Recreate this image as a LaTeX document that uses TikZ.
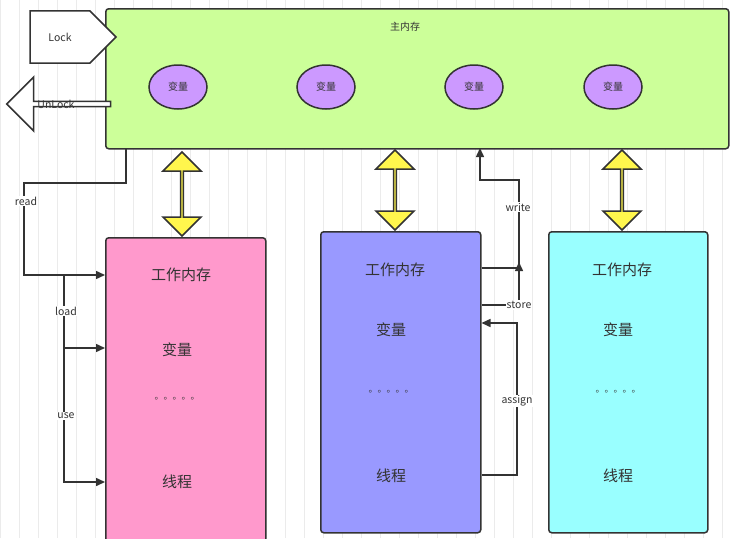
\documentclass[tikz,border=0pt]{standalone}
\usepackage{fontspec}
\setmainfont{Noto Sans CJK SC}
\usetikzlibrary{shapes.arrows,shapes.geometric,arrows.meta}
\definecolor{ln}{HTML}{333333}
\begin{document}
\begin{tikzpicture}[x=1pt,y=-1pt,
 box/.style={draw=ln,line width=1.5pt,rounded corners=3pt},
 var/.style={ellipse,draw=ln,line width=1.5pt,fill={rgb,255:red,204;green,153;blue,255},minimum width=58pt,minimum height=44pt,font=\fontsize{10}{12}\selectfont,text=ln},
 big/.style={font=\fontsize{15}{18}\selectfont,text=ln},
 lbl/.style={fill=white,font=\fontsize{10.5}{12}\selectfont,text=ln,inner sep=1pt},
 con/.style={draw=ln,line width=1.5pt,-{Triangle[length=9pt,width=8pt]}},
 dbl/.style={double arrow,draw=ln,line width=1.5pt,fill=yellow!70!white,minimum width=38pt,double arrow head extend=9pt,inner sep=0pt,shape border rotate=90,minimum height=84pt}]
\useasboundingbox (0,0) rectangle (736,538);
\fill[white] (0,0) rectangle (736,538);
\draw[black!8,line width=0.6pt,step=19] (0,0) grid (736,538);
% main memory
\node[box,fill={rgb,255:red,204;green,255;blue,153},minimum width=623pt,minimum height=140pt,anchor=north west] (mm) at (105,8) {};
\node[font=\fontsize{10}{12}\selectfont,text=ln] (mmt) at (405,27) {主内存};
\node[var] (v1) at (178,87) {变量};
\node[var] (v2) at (326,87) {变量};
\node[var] (v3) at (474,87) {变量};
\node[var] (v4) at (613,87) {变量};
% lock arrows
\node[single arrow,draw=ln,line width=1.5pt,fill=white,minimum height=86pt,minimum width=52pt,single arrow head extend=0pt,inner sep=0pt] (lk) at (60,37) {};
\node[font=\fontsize{10.5}{12}\selectfont,text=ln] (lkt) at (60,37) {Lock};
\node[single arrow,draw=ln,line width=1.5pt,fill=white,minimum height=104pt,minimum width=54pt,shape border rotate=180,inner sep=0pt] (ul) at (60,104) {};
\node[font=\fontsize{10.5}{12}\selectfont,text=ln] (ult) at (56,104) {UnLock};
% working boxes
\node[box,fill={rgb,255:red,255;green,153;blue,204},minimum width=160pt,minimum height=305pt,anchor=north west] (w1) at (105,237) {};
\node[box,fill={rgb,255:red,153;green,153;blue,255},minimum width=160pt,minimum height=301pt,anchor=north west] (w2) at (320,231) {};
\node[box,fill={rgb,255:red,153;green,255;blue,255},minimum width=159pt,minimum height=301pt,anchor=north west] (w3) at (548,231) {};
\foreach \n/\x/\a/\b/\c/\d in {a/181/275/350/399/482, b/395/270/330/392/476, c/622/270/330/392/476}{
 \node[big] (t\n1) at (\x,\a) {工作内存};
 \node[big] (t\n2) at (\x-4,\b) {变量};
 \node[text=ln,font=\fontsize{9}{10}\selectfont] (t\n3) at (\x-4,\c) {。。。。。};
 \node[big] (t\n4) at (\x-4,\d) {线程};
}
% yellow double arrows
\node[dbl] (d1) at (182,194) {};
\node[dbl,minimum height=80pt] (d2) at (395,190) {};
\node[dbl,minimum height=80pt] (d3) at (622,190) {};
% left connectors
\coordinate (r0) at (126,148);
\coordinate (ld) at (64,275);
\draw[con] (r0) -- (126,183) -- (24,183) -- (24,275) -- (w1.west |- 0,275);
\node[lbl] (rd) at (26,201) {read};
\draw[con] (ld) -- (64,348) -- (w1.west |- 0,348);
\draw[con] (64,348) -- (64,482) -- (w1.west |- 0,482);
\node[lbl] (lo) at (66,311) {load};
\node[lbl] (us) at (66,416) {use};
% right connectors
\draw[con] (w2.east |- 0,268) -- (519,268) -- (519,180) -- (480,180) -- (480,148);
\node[lbl] (wr) at (518,207) {write};
\draw[con] (w2.east |- 0,305) -- (519,305) -- (519,262);
\node[lbl] (st) at (519,305) {store};
\draw[con] (w2.east |- 0,475) -- (517,475) -- (517,323) -- (w2.east |- 0,323);
\node[lbl] (as) at (517,401) {assign};
\end{tikzpicture}
\end{document}
